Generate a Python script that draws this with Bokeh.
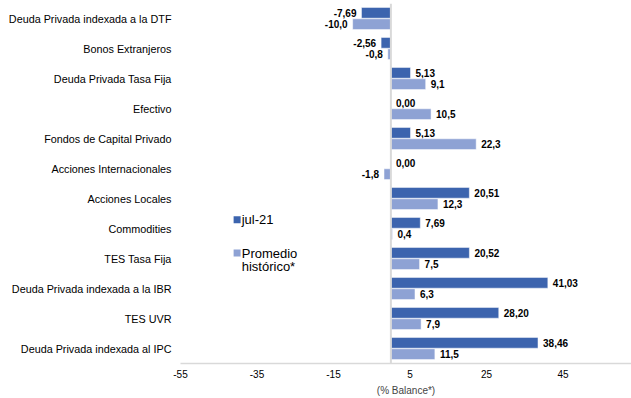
from bokeh.plotting import figure
from bokeh.models import ColumnDataSource, FixedTicker, Span, FactorRange
from bokeh.transform import dodge
from bokeh.core.properties import value
from bokeh.embed import file_html
from bokeh.resources import INLINE

categories = [
    "Deuda Privada indexada a la DTF",
    "Bonos Extranjeros",
    "Deuda Privada Tasa Fija",
    "Efectivo",
    "Fondos de Capital Privado",
    "Acciones Internacionales",
    "Acciones Locales",
    "Commodities",
    "TES Tasa Fija",
    "Deuda Privada indexada a la IBR",
    "TES UVR",
    "Deuda Privada indexada al IPC",
]
jul21 = [-7.69, -2.56, 5.13, 0.00, 5.13, 0.00, 20.51, 7.69, 20.52, 41.03, 28.20, 38.46]
promedio = [-10.0, -0.8, 9.1, 10.5, 22.3, -1.8, 12.3, 0.4, 7.5, 6.3, 7.9, 11.5]
x_ticks = [-55, -35, -15, 5, 25, 45]
x_tick_labels = ["-55", "-35", "-15", "5", "25", "45"]

DARK = "#3C64AE"
LIGHT = "#8EA2D4"
FONT = "Liberation Sans"

p = figure(
    width=631, height=398,
    y_range=FactorRange(*categories[::-1], range_padding=0),
    x_range=(-55, 62.9),
    output_backend="svg", toolbar_location=None,
    min_border_left=180, min_border_right=0, min_border_top=3, min_border_bottom=31,
)
p.outline_line_color = None
p.xgrid.visible = False
p.ygrid.visible = False

def fmt(v, d):
    return f"{v:.{d}f}".replace(".", ",")

def add_series(vals, decimals, color, off):
    src = ColumnDataSource(dict(cat=categories, v=vals))
    p.hbar(y=dodge("cat", off, range=p.y_range), right="v", left=0, height=0.36,
           source=src, fill_color=color, line_color="white", line_width=0.5)
    pos = [(c, v, fmt(v, decimals)) for c, v in zip(categories, vals) if v >= 0]
    neg = [(c, v, fmt(v, decimals)) for c, v in zip(categories, vals) if v < 0]
    for rows, align, xo in ((pos, "left", 5), (neg, "right", -5)):
        if not rows:
            continue
        s = ColumnDataSource(dict(cat=[r[0] for r in rows], v=[r[1] for r in rows],
                                  t=[r[2] for r in rows]))
        p.text(x="v", y=dodge("cat", off, range=p.y_range), text="t", source=s,
               x_offset=xo, text_align=align, text_baseline="middle",
               text_font=value(FONT), text_font_size="10px", text_font_style="bold",
               text_color="#000000")

add_series(jul21, 2, DARK, 0.19)
add_series(promedio, 1, LIGHT, -0.19)

p.add_layout(Span(location=0, dimension="height", line_color="#d9d9d9", line_width=2))

# legend (manual)
p.scatter(x=[-40.2], y=[4.79], marker="square", size=7, fill_color=DARK, line_color=None)
p.scatter(x=[-40.2], y=[3.68], marker="square", size=7, fill_color=LIGHT, line_color=None)
p.text(x=[-39.0, -39.0, -39.0], y=[4.79, 3.68, 3.24], text=["jul-21", "Promedio", "histórico*"],
       text_align="left", text_baseline="middle", text_font=value(FONT),
       text_font_size="13px", text_color="#000000")

xa = p.xaxis[0]
xa.ticker = FixedTicker(ticks=x_ticks)
xa.major_label_overrides = dict(zip(x_ticks, x_tick_labels))
xa.axis_line_color = "#d9d9d9"
xa.axis_line_width = 1.5
xa.major_tick_line_color = None
xa.minor_tick_line_color = None
xa.major_tick_out = 0
xa.major_tick_in = 0
xa.minor_tick_out = 0
xa.major_label_text_font = FONT
xa.major_label_text_font_size = "10px"
xa.major_label_text_color = "#000000"
xa.major_label_standoff = 6
xa.axis_label = "(% Balance*)"
xa.axis_label_text_font = FONT
xa.axis_label_text_font_size = "10px"
xa.axis_label_text_font_style = "normal"
xa.axis_label_standoff = 4

ya = p.yaxis[0]
ya.axis_line_color = None
ya.major_tick_line_color = None
ya.minor_tick_line_color = None
ya.major_tick_out = 0
ya.major_tick_in = 0
ya.major_label_text_font = FONT
ya.major_label_text_font_size = "10.8px"
ya.major_label_text_color = "#000000"
ya.major_label_standoff = 9

open("out.html", "w").write(file_html(p, INLINE))
